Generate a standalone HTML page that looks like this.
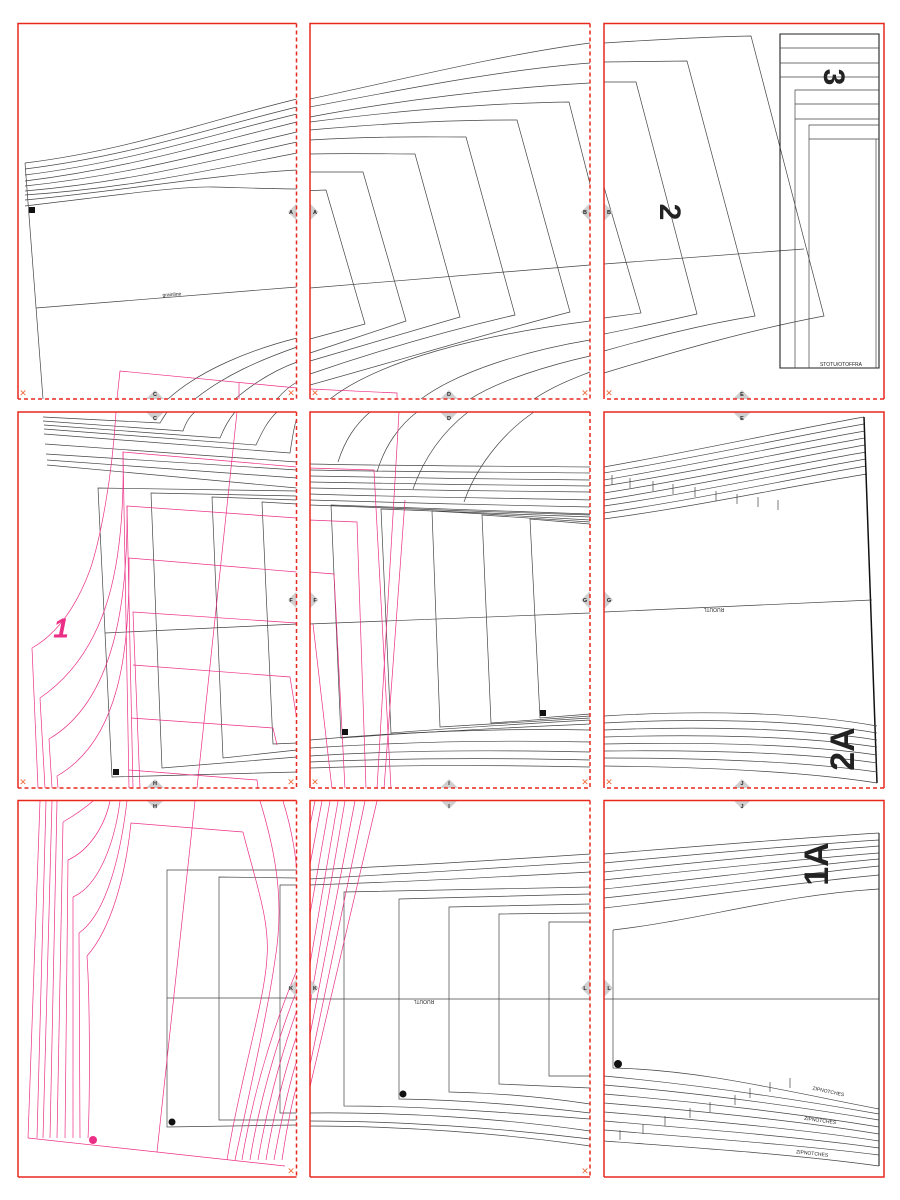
<!DOCTYPE html>
<html><head><meta charset="utf-8"><style>
html,body{margin:0;padding:0;background:#fff;}
svg{display:block;}
text{font-family:"Liberation Sans",sans-serif;}
</style></head><body>
<svg width="900" height="1200" viewBox="0 0 900 1200" xmlns="http://www.w3.org/2000/svg">
<rect width="900" height="1200" fill="#fff"/>
<g fill="none" stroke="#444" stroke-width="0.7">
<!-- Panel 1 -->
<path d="M25 163 C130 150 210 120 297 99"/>
<path d="M25 169 C130 156 210 128 297 107"/>
<path d="M25 175 C130 162 210 135 297 114"/>
<path d="M25 181 C130 168 210 143 297 122"/>
<path d="M25 186 C130 175 210 152 297 132"/>
<path d="M25 191 C130 182 210 161 297 142"/>
<path d="M25 195 C130 188 210 170 297 153"/>
<path d="M25 200 C130 190 210 175 297 170"/>
<path d="M25 206 C110 196 180 186 213 187 C250 188 280 189 297 189"/>
<path d="M25 163 L43 399"/>
<path d="M36 308 L297 287"/>
<path d="M168 399 C200 370 250 350 297 338"/>
<path d="M195 399 C225 375 260 360 297 347"/>
<path d="M235 399 C255 382 275 370 297 362"/>
<path d="M277 399 C283 392 290 386 297 382"/>
<!-- Panel 2 -->
<path d="M310 99 C400 80 500 55 590 43"/>
<path d="M310 107 C400 90 500 70 590 63"/>
<path d="M310 117 C400 100 500 88 590 83"/>
<path d="M310 122 C420 108 500 103 569 102 L590 184"/>
<path d="M310 130 C400 122 460 120 517 120 L570 312 C500 330 400 360 310 385"/>
<path d="M310 140 C380 136 420 137 466 137 L515 315 C450 330 380 350 310 374"/>
<path d="M310 154 C350 153 390 154 415 154 L460 317 L310 361"/>
<path d="M310 172 L363 172 L406 321 L310 353"/>
<path d="M310 190.6 L326 190 L365 324 L310 339"/>
<path d="M310 288 L590 265"/>
<path d="M330 399 C380 360 480 335 590 321"/>
<path d="M421 399 C460 370 530 350 590 340"/>
<path d="M470 399 C500 380 550 365 590 356"/>
<path d="M534 399 C555 385 575 378 590 372"/>
<!-- Panel 3 -->
<path d="M604 43 C650 40 700 37 751 36 L824 316 C750 330 680 350 604 373"/>
<path d="M604 62 L687 61 L755 316 C700 325 650 338 604 351"/>
<path d="M604 82 L636 82 L697 314 C670 320 640 327 604 334"/>
<path d="M604 187 L641 313 L604 318"/>
<path d="M604 264 L804 249"/>
<path d="M780 34 L879 34 L879 368 L780 368 Z" stroke="#222" stroke-width="1.1"/>
<path d="M780 48 H879 M780 63 H879 M780 77 H879"/>
<path d="M795 368 L795 90 L879 90 M795 104 H879 M795 119 H879"/>
<path d="M809 368 L809 125 L879 125 M809 139 H879 M876 139 V368"/>
<!-- Panel 4 -->
<path d="M43 417 L160 423 C163 418 165 415 167 412"/>
<path d="M43 421 L183 431 C186 422 190 416 195 412"/>
<path d="M44 425 L220 438 C224 428 229 419 235 412"/>
<path d="M44 429 L256 445 C262 432 268 420 277 412"/>
<path d="M44 434 L290 453 C292 440 294 425 297 418"/>
<path d="M45 444 L297 462"/>
<path d="M46 454 L297 470"/>
<path d="M47 460 L297 478"/>
<path d="M47 465 L297 488"/>
<path d="M297 491 L98 488 L112 777 L297 772"/>
<path d="M297 496 L151 493 L162 768 L297 757"/>
<path d="M297 500 L212 497 L223 758 L297 750"/>
<path d="M297 504 L262 502 L273 744 L297 743"/>
<path d="M105 633 L297 624"/>
<!-- Panel 5 -->
<path d="M338 462 C345 440 355 425 370 412"/>
<path d="M377 472 C385 445 400 425 417 412"/>
<path d="M413 489 C425 455 445 430 468 412"/>
<path d="M464 502 C475 470 500 435 534 412"/>
<path d="M310 464 C400 466 500 466 590 467"/>
<path d="M310 470 C400 472 500 472 590 473"/>
<path d="M310 476 C400 478 500 479 590 480"/>
<path d="M310 482 C400 484 500 485 590 486"/>
<path d="M310 488 C400 490 500 491 590 492"/>
<path d="M310 494 C400 497 500 498 590 500"/>
<path d="M310 500 C400 503 500 505 590 507"/>
<path d="M310 505 C400 509 500 512 590 515"/>
<path d="M590 514 L331 505 L341 738 C420 732 500 728 590 724"/>
<path d="M590 517 L381 509 L391 733 C450 728 520 724 590 720"/>
<path d="M590 520 L432 511 L440 727 L590 718"/>
<path d="M590 522 L482 515 L491 723 L590 716"/>
<path d="M590 524 L530 519 L540 718 L590 714"/>
<path d="M310 740 C400 732 500 728 590 730"/>
<path d="M310 748 C400 742 500 740 590 742"/>
<path d="M310 756 C400 750 500 750 590 752"/>
<path d="M310 762 C400 758 500 758 590 760"/>
<path d="M310 768 C400 765 500 765 590 767"/>
<path d="M309 624 L590 613"/>
<!-- Panel 6 -->
<path d="M604 467 C700 450 790 430 864 417"/>
<path d="M604 473 C700 457 790 437 864 424"/>
<path d="M604 480 C700 464 790 444 865 431"/>
<path d="M604 486 C700 471 790 451 865 438"/>
<path d="M604 493 C700 478 790 458 865 445"/>
<path d="M604 500 C700 485 790 465 866 452"/>
<path d="M604 506 C700 492 790 472 866 459"/>
<path d="M604 513 C700 499 790 479 866 466"/>
<path d="M604 519 C700 506 790 486 867 474"/>
<path d="M864 417 L877 783" stroke="#111" stroke-width="1.5"/>
<path d="M604 612 L872 600"/>
<path d="M604 716 C700 710 800 712 877 726"/>
<path d="M604 723 C700 718 800 720 877 733"/>
<path d="M604 730 C700 726 800 728 877 740"/>
<path d="M604 737 C700 734 800 736 877 747"/>
<path d="M604 744 C700 742 800 744 877 755"/>
<path d="M604 751 C700 750 800 752 877 763"/>
<path d="M604 758 C700 758 800 761 877 772"/>
<path d="M604 766 C700 767 800 771 877 783"/>
<!-- Panel 7 -->
<path d="M297 870 L167 870 L167 1127 L297 1125"/>
<path d="M297 878 L219 877 L219 1120 L297 1120"/>
<path d="M297 885 L280 885 L280 1113 L297 1113"/>
<path d="M167 998 L297 998"/>
<!-- Panel 8 -->
<path d="M309 870 C400 866 500 860 590 854"/>
<path d="M309 879 C400 874 500 868 590 862"/>
<path d="M309 885 C400 882 500 877 590 872"/>
<path d="M590 887 L344 892 L344 1106 C420 1106 500 1112 590 1119"/>
<path d="M590 894 L399 899 L399 1099 C470 1100 530 1106 590 1113"/>
<path d="M590 904 L449 907 L449 1092 C500 1093 550 1098 590 1104"/>
<path d="M590 913 L499 914 L499 1084 L590 1088"/>
<path d="M590 922 L549 922 L549 1076 L590 1076"/>
<path d="M309 1113 C400 1112 500 1118 590 1131"/>
<path d="M309 1121 C400 1121 500 1128 590 1139"/>
<path d="M309 1126 C400 1126 500 1133 590 1146"/>
<path d="M309 999 L590 999"/>
<!-- Panel 9 -->
<path d="M604 854 C700 846 800 838 879 833"/>
<path d="M604 863 C700 854 800 845 879 840"/>
<path d="M604 872 C700 862 800 852 879 846"/>
<path d="M604 880 C700 870 800 859 879 853"/>
<path d="M604 889 C700 879 800 866 879 859"/>
<path d="M604 898 C700 888 800 874 879 866"/>
<path d="M604 908 C700 897 800 882 879 875"/>
<path d="M613 930 C700 920 780 895 879 889"/>
<path d="M613 930 L613 1068 C700 1070 780 1090 879 1109"/>
<path d="M879 833 L879 1166" stroke="#111" stroke-width="1"/>
<path d="M604 999 L879 999"/>
<path d="M604 1076 C700 1085 800 1100 879 1114"/>
<path d="M604 1085 C700 1093 800 1107 879 1120"/>
<path d="M604 1094 C700 1102 800 1114 879 1127"/>
<path d="M604 1103 C700 1111 800 1121 879 1134"/>
<path d="M604 1112 C700 1120 800 1129 879 1141"/>
<path d="M604 1121 C700 1129 800 1137 879 1148"/>
<path d="M604 1130 C700 1138 800 1145 879 1155"/>
<path d="M604 1141 C700 1148 800 1155 879 1166"/>
<path d="M620 1140 v-10 M643 1134 v-10 M665 1126 v-10 M690 1118 v-10 M710 1112 v-10 M735 1105 v-10 M750 1098 v-10 M770 1092 v-10 M790 1088 v-10"/>
<path d="M612 475 v10 M630 478 v10 M653 481 v10 M673 484 v10 M695 487 v10 M716 491 v10 M737 494 v10 M758 497 v10 M778 500 v10"/>
</g>
<!-- pink -->
<g fill="none" stroke="#ec2f86" stroke-width="0.7">
<path d="M117 399 L120 371 L297 388 M239 383 L239 399"/>
<path d="M310 389 L397 393 L397 399"/>
<path d="M116 412 C112 480 100 540 90 570 C75 610 55 635 32 648 L38 788"/>
<path d="M297 467 L123 452 C125 560 110 650 40 698 L45 788"/>
<path d="M297 518 L127 506 C128 600 115 700 49 739 L52 788"/>
<path d="M297 572 L129 558 C130 650 120 740 57 776 L58 788"/>
<path d="M297 623 L133 612 L140 788"/>
<path d="M123 452 L129 788 M127 506 L133 788"/>
<path d="M133 665 L290 677 L297 720"/>
<path d="M131 718 L273 728 L277 745"/>
<path d="M129 770 L257 780 L258 788"/>
<path d="M237 412 L197 788"/>
<path d="M309 468 L374 470 L391 789"/>
<path d="M309 520 L357 522 L366 789"/>
<path d="M309 572 L334 574 L345 789"/>
<path d="M313 624 L332 789"/>
<path d="M399 412 L377 789"/>
<path d="M405 500 L384 789"/>
<path d="M40 801 L28 1138 M46 801 L37 1138 M52 801 L43 1138 M57 801 L50 1138"/>
<path d="M63 822 L57 1138 M68 860 L65 1138 M73 897 L73 1138 M79 933 L80 1138"/>
<path d="M87 956 C90 1000 90 1100 88 1138"/>
<path d="M63 822 C75 815 85 808 93 801 M68 860 C90 850 105 825 110 801 M73 897 C100 885 115 840 120 801 M79 933 C105 915 120 860 127 801"/>
<path d="M243 832 L131 823 C125 880 110 930 87 956"/>
<path d="M243 832 C255 880 270 920 267 957 C265 1000 240 1080 227 1160"/>
<path d="M28 1138 L285 1166"/>
<path d="M195 801 L157 1152"/>
<path d="M260 801 C275 850 285 900 275 960 C268 1010 250 1090 235 1160"/>
<path d="M283 801 C292 830 297 860 297 880"/>
<path d="M242 1160 C255 1080 280 1010 297 970 M250 1160 C262 1085 285 1020 297 990 M258 1160 C270 1090 288 1035 297 1010 M266 1160 C276 1100 290 1055 297 1035 M274 1160 C283 1110 292 1075 297 1060 M282 1160 C288 1120 294 1095 297 1085"/>
<path d="M315 801 L309 830 M322 801 L309 870 M330 801 L309 920 M338 801 L309 970 M345 801 L309 1010 M355 801 L309 1040 M365 801 L309 1070 M377 801 L309 1091"/>
</g>
<g fill="#111">
<rect x="29" y="207" width="6" height="6"/>
<rect x="113" y="769" width="6" height="6"/>
<rect x="342" y="729" width="6" height="6"/>
<rect x="540" y="710" width="6" height="6"/>
<circle cx="172" cy="1122" r="3.5"/>
<circle cx="403" cy="1094" r="3.5"/>
<circle cx="618" cy="1064" r="4"/>
</g>
<circle cx="93" cy="1140" r="4" fill="#ec2f86"/>
<!-- big labels -->
<text x="668" y="212" font-size="30" font-weight="bold" fill="#222" transform="rotate(90 668 212)" text-anchor="middle" dominant-baseline="middle">2</text>
<text x="832" y="77" font-size="30" font-weight="bold" fill="#222" transform="rotate(90 832 77)" text-anchor="middle" dominant-baseline="middle">3</text>
<text x="845" y="749" font-size="34" font-weight="bold" fill="#222" transform="rotate(-90 845 749)" text-anchor="middle" dominant-baseline="middle">2A</text>
<text x="819" y="864" font-size="34" font-weight="bold" fill="#222" transform="rotate(-90 819 864)" text-anchor="middle" dominant-baseline="middle">1A</text>
<text x="61" y="630" font-size="28" font-weight="bold" font-style="italic" fill="#ec2f86" text-anchor="middle" dominant-baseline="middle">1</text>
<g font-size="5" fill="#222">
<text x="172" y="296" transform="rotate(-4 172 296)" text-anchor="middle">grainline</text>
<text x="841" y="366" text-anchor="middle">STOTU/OTOFFRA</text>
<text x="714" y="608" transform="rotate(180 714 608)" text-anchor="middle">RUOUTL</text>
<text x="424" y="1000" transform="rotate(180 424 1000)" text-anchor="middle">RUOUTL</text>
<text x="828" y="1093" transform="rotate(12 828 1093)" text-anchor="middle">ZIPNOTCHES</text>
<text x="820" y="1122" transform="rotate(8 820 1122)" text-anchor="middle">ZIPNOTCHES</text>
<text x="812" y="1155" transform="rotate(6 812 1155)" text-anchor="middle">ZIPNOTCHES</text>
</g>
<!-- diamonds -->
<g fill="#cfcfcf">
<path d="M297 203 l9 9 l-9 9 l-9 -9z"/>
<path d="M309.5 203 l9 9 l-9 9 l-9 -9z"/>
<path d="M590 203 l9 9 l-9 9 l-9 -9z"/>
<path d="M604 203 l9 9 l-9 9 l-9 -9z"/>
<path d="M155 390 l9 9 l-9 9 l-9 -9z M155 403 l9 9 l-9 9 l-9 -9z"/>
<path d="M449 390 l9 9 l-9 9 l-9 -9z M449 403 l9 9 l-9 9 l-9 -9z"/>
<path d="M742 390 l9 9 l-9 9 l-9 -9z M742 403 l9 9 l-9 9 l-9 -9z"/>
<path d="M297 591 l9 9 l-9 9 l-9 -9z M309.5 591 l9 9 l-9 9 l-9 -9z"/>
<path d="M590 591 l9 9 l-9 9 l-9 -9z M604 591 l9 9 l-9 9 l-9 -9z"/>
<path d="M155 779 l9 9 l-9 9 l-9 -9z M155 791 l9 9 l-9 9 l-9 -9z"/>
<path d="M449 779 l9 9 l-9 9 l-9 -9z M449 791 l9 9 l-9 9 l-9 -9z"/>
<path d="M742 779 l9 9 l-9 9 l-9 -9z M742 791 l9 9 l-9 9 l-9 -9z"/>
<path d="M297 979 l9 9 l-9 9 l-9 -9z M309.5 979 l9 9 l-9 9 l-9 -9z"/>
<path d="M590 979 l9 9 l-9 9 l-9 -9z M604 979 l9 9 l-9 9 l-9 -9z"/>
</g>
<!-- gap covers -->
<g fill="#fff">
<rect x="0" y="0" width="17.5" height="1200"/>
<rect x="296.5" y="0" width="13" height="1200"/>
<rect x="590" y="0" width="14" height="1200"/>
<rect x="884" y="0" width="16" height="1200"/>
<rect x="0" y="0" width="900" height="23.5"/>
<rect x="0" y="399" width="900" height="13"/>
<rect x="0" y="788" width="900" height="12.5"/>
<rect x="0" y="1177" width="900" height="23"/>
</g>
<g font-size="5.5" font-weight="bold" fill="#222" text-anchor="middle">
<text x="291" y="214">A</text><text x="315" y="214">A</text>
<text x="585" y="214">B</text><text x="609" y="214">B</text>
<text x="155" y="396">C</text><text x="155" y="420">C</text>
<text x="449" y="396">D</text><text x="449" y="420">D</text>
<text x="742" y="396">E</text><text x="742" y="420">E</text>
<text x="291" y="602">F</text><text x="315" y="602">F</text>
<text x="585" y="602">G</text><text x="609" y="602">G</text>
<text x="155" y="785">H</text><text x="155" y="808">H</text>
<text x="449" y="785">I</text><text x="449" y="808">I</text>
<text x="742" y="785">J</text><text x="742" y="808">J</text>
<text x="291" y="990">K</text><text x="315" y="990">K</text>
<text x="585" y="990">L</text><text x="609" y="990">L</text>
</g>
<!-- borders -->
<g stroke="#e8281e" stroke-width="1.5" fill="none">
<path d="M18 399 V23.5 H296.5"/>
<path d="M310 399 V23.5 H590"/>
<path d="M604 399 V23.5 H884 V399"/>
<path d="M18 788 V412 H296.5"/>
<path d="M310 788 V412 H590"/>
<path d="M604 788 V412 H884 V788"/>
<path d="M18 1177 V800.5 H296.5"/>
<path d="M310 1177 V800.5 H590"/>
<path d="M604 1177 V800.5 H884 V1177 H604"/>
<path d="M18 1177 H296.5 M310 1177 H590"/>
</g>
<g stroke="#e8281e" stroke-width="1.5" fill="none" stroke-dasharray="4 3">
<path d="M296.5 23.5 V399 H18"/>
<path d="M590 23.5 V399 H310"/>
<path d="M884 399 H604"/>
<path d="M296.5 412 V788 H18"/>
<path d="M590 412 V788 H310"/>
<path d="M884 788 H604"/>
<path d="M296.5 800.5 V1177"/>
<path d="M590 800.5 V1177"/>
</g>
<g font-size="9" fill="#f06a3a" text-anchor="middle">
<text x="23" y="396">✕</text><text x="291" y="396">✕</text>
<text x="315" y="396">✕</text><text x="585" y="396">✕</text>
<text x="609" y="396">✕</text>
<text x="23" y="785">✕</text><text x="291" y="785">✕</text>
<text x="315" y="785">✕</text><text x="585" y="785">✕</text>
<text x="609" y="785">✕</text>
<text x="291" y="1174">✕</text><text x="585" y="1174">✕</text>
</g>
</svg>
</body></html>
